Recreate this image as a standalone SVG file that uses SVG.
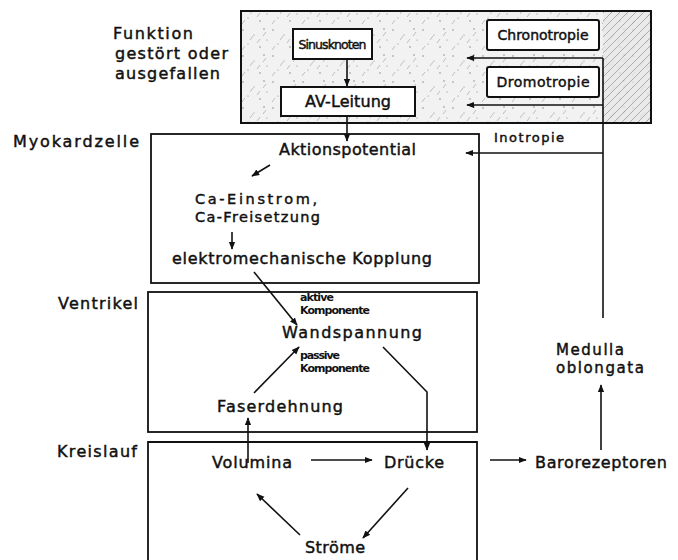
<svg xmlns="http://www.w3.org/2000/svg" width="678" height="560" viewBox="0 0 678 560">
<style>
text{font-family:"DejaVu Sans","Liberation Sans",sans-serif;fill:#111;stroke:#111;stroke-width:0.45;}
.t{font-size:16px;}
.c{font-size:14.5px;}
.e{font-size:15px;}
.b{font-size:14px;}
.k{font-size:12.5px;}
.s{font-size:11px;font-weight:bold;stroke-width:0;}
.m{font-size:13px;}
.box{fill:#fff;stroke:#111;stroke-width:2;}
.fr{fill:none;stroke:#111;stroke-width:1.8;}
.ln{fill:none;stroke:#111;stroke-width:1.6;}
</style>
<defs>
<marker id="ah" viewBox="0 0 10 10" refX="9" refY="5" markerWidth="8" markerHeight="8" orient="auto" markerUnits="userSpaceOnUse">
<path d="M0,1 L10,5 L0,9 Z" fill="#111"/>
</marker>
<pattern id="stip" width="30" height="26" patternUnits="userSpaceOnUse">
<rect width="30" height="26" fill="#f2f2f2"/>
<circle cx="3" cy="4" r="0.7" fill="#777"/>
<circle cx="14" cy="9" r="0.6" fill="#888"/>
<circle cx="24" cy="3" r="0.7" fill="#777"/>
<circle cx="8" cy="18" r="0.6" fill="#888"/>
<circle cx="20" cy="21" r="0.7" fill="#777"/>
<circle cx="27" cy="14" r="0.6" fill="#888"/>
<path d="M10,14 l3,-4 M17,17 l3,-4 M2,24 l3,-4 M23,10 l3,-4" stroke="#999" stroke-width="0.6"/>
</pattern>
<pattern id="hatch" width="8" height="8" patternUnits="userSpaceOnUse">
<rect width="8" height="8" fill="#e6e6e6"/>
<path d="M0,8 L8,0" stroke="#777" stroke-width="0.8"/>
</pattern>
</defs>
<rect width="678" height="560" fill="#fff"/>

<g id="labels">
<text class="t" x="113" y="39" textLength="80">Funktion</text>
<text class="t" x="115" y="59" textLength="113">gestört oder</text>
<text class="t" x="115" y="79" textLength="105">ausgefallen</text>
<text class="t" x="13" y="147" textLength="126">Myokardzelle</text>
<text class="t" x="58" y="309" textLength="80">Ventrikel</text>
<text class="t" x="57" y="457" textLength="80">Kreislauf</text>
</g>

<g id="funktion-box">
<rect x="241" y="11" width="410" height="112" fill="url(#stip)" stroke="#111" stroke-width="2"/>
<rect x="603" y="12" width="47" height="110" fill="url(#hatch)" opacity="0.7"/>
</g>
<g id="sinusknoten">
<rect class="box" x="293" y="29" width="79" height="30"/>
<text class="k" x="332.5" y="49" text-anchor="middle" textLength="68">Sinusknoten</text>
</g>
<g id="av-leitung">
<rect class="box" x="281" y="87" width="134" height="29"/>
<text class="t" x="348" y="107" text-anchor="middle" textLength="86">AV-Leitung</text>
</g>
<g id="chronotropie">
<rect class="box" x="487" y="20" width="112" height="30" rx="2"/>
<text class="b" x="543" y="40" text-anchor="middle" textLength="91">Chronotropie</text>
</g>
<g id="dromotropie">
<rect class="box" x="487" y="67" width="112" height="30" rx="2"/>
<text class="b" x="543" y="87" text-anchor="middle" textLength="93">Dromotropie</text>
</g>

<g id="myokardzelle">
<rect class="fr" x="151" y="134" width="328" height="149"/>
<text class="t" x="279" y="155" textLength="137">Aktionspotential</text>
<text class="c" x="195" y="204" textLength="122">Ca-Einstrom,</text>
<text class="c" x="195" y="221.5" textLength="125">Ca-Freisetzung</text>
<text class="t" x="172" y="264" textLength="260">elektromechanische Kopplung</text>
</g>

<g id="ventrikel">
<rect class="fr" x="148" y="292" width="329" height="140"/>
<text class="s" x="300" y="301" textLength="34">aktive</text>
<text class="s" x="300" y="314" textLength="70">Komponente</text>
<text class="t" x="282" y="338" textLength="140">Wandspannung</text>
<text class="s" x="300" y="359" textLength="40">passive</text>
<text class="s" x="300" y="372" textLength="70">Komponente</text>
<text class="t" x="217" y="412" textLength="126">Faserdehnung</text>
</g>

<g id="kreislauf">
<path class="fr" d="M148,562 V442 H477 V562"/>
<text class="t" x="212" y="468" textLength="80">Volumina</text>
<text class="t" x="384" y="468" textLength="60">Drücke</text>
<text class="t" x="305" y="553" textLength="60">Ströme</text>
</g>

<g id="barorezeptoren">
<text class="t" x="535" y="468" textLength="132">Barorezeptoren</text>
</g>
<g id="medulla">
<text class="e" x="556" y="355" textLength="68">Medulla</text>
<text class="e" x="556" y="373" textLength="88">oblongata</text>
</g>
<g id="inotropie-label">
<text class="m" x="494" y="142" textLength="70">Inotropie</text>
</g>

<g id="connectors">
<path class="ln" d="M347,59 V86" marker-end="url(#ah)"/>
<path class="ln" d="M347,116 V141" marker-end="url(#ah)"/>
<path class="ln" d="M603,58 V318"/>
<path class="ln" d="M603,58 H467" marker-end="url(#ah)"/>
<path class="ln" d="M603,105 H467" marker-end="url(#ah)"/>
<path class="ln" d="M603,153 H466" marker-end="url(#ah)"/>
<path class="ln" d="M270,165 L252,176" marker-end="url(#ah)"/>
<path class="ln" d="M232,232 V249" marker-end="url(#ah)"/>
<path class="ln" d="M254,272 L297,325" marker-end="url(#ah)"/>
<path class="ln" d="M254,393 L299,347" marker-end="url(#ah)"/>
<path class="ln" d="M383,347 L427,392 V450" marker-end="url(#ah)"/>
<path class="ln" d="M248,463 V418" marker-end="url(#ah)"/>
<path class="ln" d="M311,460 H372" marker-end="url(#ah)"/>
<path class="ln" d="M490,460 H526" marker-end="url(#ah)"/>
<path class="ln" d="M408,488 L363,538" marker-end="url(#ah)"/>
<path class="ln" d="M300,535 L257,494" marker-end="url(#ah)"/>
<path class="ln" d="M601,450 V385" marker-end="url(#ah)"/>
</g>
</svg>
